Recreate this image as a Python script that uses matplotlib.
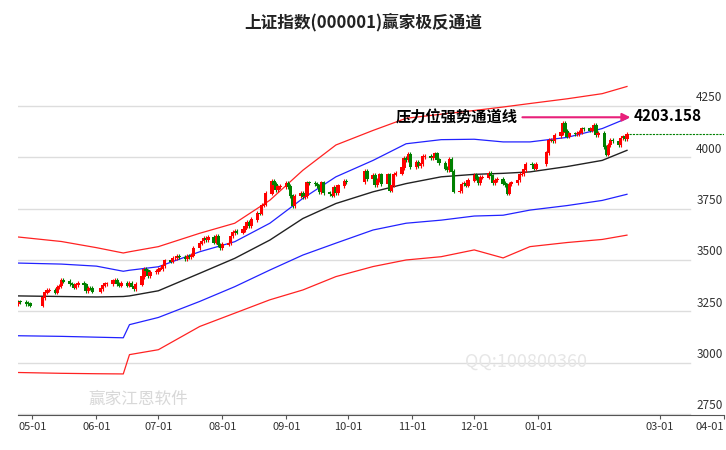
import matplotlib
matplotlib.use("Agg")
import matplotlib.pyplot as plt
import matplotlib.dates as mdates
import pandas as pd
import numpy as np

plt.rcParams['font.family'] = ['Noto Sans CJK SC', 'DejaVu Sans']

title = "上证指数(000001)赢家极反通道"
close_apr = [3297, 3295, 3288, 3287, 3279]
close_may = [3316, 3342, 3352, 3353, 3342, 3369, 3374, 3402, 3396, 3384, 3380, 3367, 3380, 3387, 3380, 3348, 3364, 3363, 3347]
close_jun = [3361, 3376, 3384, 3385, 3399, 3402, 3384, 3377, 3388, 3377, 3388, 3372, 3359, 3381, 3419, 3455, 3448, 3424, 3442, 3444]
close_jul = [3455, 3458, 3473, 3497, 3493, 3509, 3510, 3520, 3515, 3504, 3519, 3516, 3523, 3559, 3581, 3593, 3605, 3597, 3610, 3586, 3615, 3573, 3560]
close_aug = [3576, 3583, 3617, 3634, 3639, 3635, 3647, 3666, 3683, 3666, 3697, 3728, 3727, 3766, 3771, 3825, 3884, 3868, 3843, 3857, 3858]
close_sep = [3875, 3858, 3813, 3765, 3812, 3826, 3807, 3812, 3876, 3875, 3870, 3861, 3831, 3876, 3828, 3821, 3815, 3853, 3828, 3862, 3883, 3882]
close_oct = [3933, 3897, 3912, 3865, 3889, 3916, 3870, 3916, 3839, 3863, 3917, 3922, 3950, 3996, 3988, 4016, 3954]
close_nov = [3976, 3960, 3969, 4004, 4007, 3997, 4002, 4018, 3989, 3972, 3946, 3939, 3990, 3931, 3834, 3836, 3870, 3875, 3864, 3888]
close_dec = [3914, 3898, 3875, 3902, 3902, 3924, 3910, 3874, 3889, 3895, 3873, 3867, 3825, 3870, 3876, 3890, 3917, 3919, 3940, 3965, 3963, 3946, 3968]
close_jan = [4023, 4083, 4085, 4082, 4106, 4120, 4165, 4126, 4102, 4115, 4113, 4116, 4122, 4140, 4139, 4132, 4141, 4157, 4110, 4117]
close_feb = [4050, 4015, 4060, 4085, 4080, 4060, 4095, 4100, 4090, 4112]
first_open = 3285
wick = 10

band_dates = ["2025-04-24", "2025-05-15", "2025-06-01", "2025-06-14", "2025-06-17", "2025-07-01", "2025-07-21",
              "2025-08-07", "2025-08-24", "2025-09-09", "2025-09-25", "2025-10-13", "2025-10-29", "2025-11-15",
              "2025-12-01", "2025-12-15", "2025-12-28", "2026-01-15", "2026-02-01", "2026-02-13"]
mid_line   = [3325, 3322, 3320, 3322, 3325, 3350, 3435, 3508, 3597, 3702, 3775, 3832, 3872, 3905, 3917, 3922, 3929, 3955, 3985, 4034]
upper_blue = [3485, 3480, 3470, 3445, 3450, 3467, 3540, 3589, 3679, 3800, 3905, 3985, 4066, 4086, 4088, 4075, 4075, 4097, 4140, 4190]
upper_red  = [3612, 3590, 3560, 3534, 3540, 3565, 3630, 3679, 3791, 3937, 4060, 4131, 4190, 4210, 4228, 4245, 4262, 4285, 4310, 4345]
lower_blue = [3131, 3128, 3124, 3121, 3185, 3220, 3298, 3370, 3451, 3524, 3582, 3646, 3679, 3694, 3714, 3718, 3743, 3765, 3790, 3820]
lower_red  = [2952, 2948, 2946, 2945, 3039, 3063, 3176, 3241, 3306, 3354, 3419, 3468, 3500, 3516, 3549, 3510, 3565, 3585, 3600, 3621]

yticks = [2750, 3000, 3250, 3500, 3750, 4000, 4250]
xtick_labels = ["05-01", "06-01", "07-01", "08-01", "09-01", "10-01", "11-01", "12-01", "01-01", "03-01", "04-01"]
xtick_dates = ["2025-05-01", "2025-06-01", "2025-07-01", "2025-08-01", "2025-09-01", "2025-10-01", "2025-11-01",
               "2025-12-01", "2026-01-01", "2026-03-01", "2026-04-01"]
label_text = "压力位强势通道线"
label_value = "4203.158"

closes = np.array(close_apr + close_may + close_jun + close_jul + close_aug + close_sep +
                  close_oct + close_nov + close_dec + close_jan + close_feb, dtype=float)
holidays = pd.to_datetime(["2025-05-01", "2025-05-02", "2025-05-05", "2025-06-02", "2025-10-01", "2025-10-02",
                           "2025-10-03", "2025-10-06", "2025-10-07", "2025-10-08", "2026-01-01", "2026-01-02"])
days = pd.bdate_range("2025-04-24", "2026-02-13")
days = days[~days.isin(holidays)][:len(closes)]
opens = np.concatenate([[first_open], closes[:-1]])
highs = np.maximum(opens, closes) + wick
lows = np.minimum(opens, closes) - wick

fig = plt.figure(figsize=(7.26, 4.5), dpi=100)
ax = fig.add_axes([18/726, 1-415/450, (724-18)/726, 370/450])
ax.set_xlim(mdates.date2num(pd.Timestamp("2025-04-24")), mdates.date2num(pd.Timestamp("2026-04-01")))
ax.set_ylim(2745, 4547)

for v in yticks:
    ax.axhline(v, xmin=0, xmax=0.952, color='#dddddd', lw=1, zorder=0)
    ax.text(0.998, v + 8, str(v), transform=ax.get_yaxis_transform(), ha='right', va='bottom', fontsize=8.5, color='#333333')

x = mdates.date2num(days)
up = closes >= opens
col = np.where(up, '#ff0000', '#008000')
ax.vlines(x, lows, highs, colors=col, lw=0.8, zorder=3)
ax.bar(x, np.abs(closes - opens) + 3, bottom=np.minimum(opens, closes) - 1.5, width=1.6, color=col, zorder=4)

bx = mdates.date2num(pd.to_datetime(band_dates))
ax.plot(bx, mid_line, color='#222222', lw=1, zorder=2)
ax.plot(bx, upper_blue, color='#2222ff', lw=0.9, zorder=2)
ax.plot(bx, lower_blue, color='#2222ff', lw=0.9, zorder=2)
ax.plot(bx, upper_red, color='#ff2222', lw=0.9, zorder=2)
ax.plot(bx, lower_red, color='#ff2222', lw=0.9, zorder=2)

last_x = x[-1]
ax.plot([last_x + 1, ax.get_xlim()[1]], [closes[-1], closes[-1]], color='#008000', lw=0.8, ls=(0, (2, 1)), zorder=2)

ax.text(mdates.date2num(pd.Timestamp("2025-10-24")), 4195, label_text, fontsize=11, fontweight='bold', va='center', ha='left', zorder=6)
ax.annotate("", xy=(mdates.date2num(pd.Timestamp("2026-02-16")), 4195),
            xytext=(mdates.date2num(pd.Timestamp("2025-12-23")), 4195),
            arrowprops=dict(arrowstyle='-|>', color='#e8207a', lw=1.5, mutation_scale=12), zorder=6)
ax.text(mdates.date2num(pd.Timestamp("2026-02-16")), 4200, label_value, fontsize=11, fontweight='bold', va='center', ha='left', zorder=6)

ax.text(0.72, 0.13, "QQ:100800360", transform=ax.transAxes, fontsize=13, color='#e6e6e6', ha='center', zorder=1)
ax.text(0.17, 0.03, "赢家江恩软件", transform=ax.transAxes, fontsize=12, color='#d8d8d8', ha='center', zorder=1)

tx = mdates.date2num(pd.to_datetime(xtick_dates))
ax.set_xticks(tx)
ax.set_xticklabels(xtick_labels, fontsize=8, color='#333333')
ax.get_xticklabels()[-1].set_ha('right')
ax.set_yticks([])
for s in ['top', 'right', 'left']:
    ax.spines[s].set_visible(False)
ax.spines['bottom'].set_color('#555555')
ax.tick_params(axis='x', length=3, color='#555555', pad=2)

fig.text(0.5, 1-22/450, title, ha='center', va='center', fontsize=12, fontweight='bold', color='#222222')
fig.savefig("out.png", dpi=100, facecolor='white')
